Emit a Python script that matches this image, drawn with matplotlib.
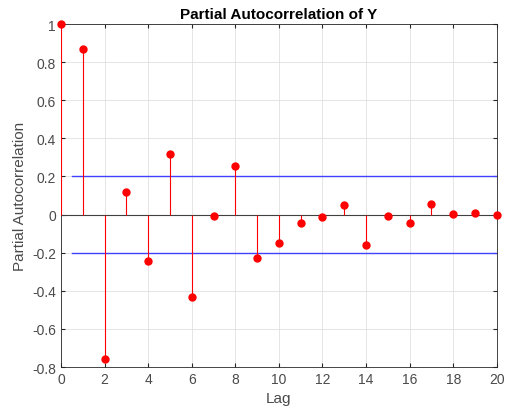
import numpy as np
import matplotlib
matplotlib.use("Agg")
import matplotlib.pyplot as plt

plt.rcParams["font.family"] = ["Liberation Sans", "DejaVu Sans"]

# sample partial autocorrelations, lags 0..20
lags = np.arange(0, 21)
pacf = [1.0, 0.87, -0.76, 0.12, -0.245, 0.32, -0.43, -0.005, 0.255, -0.23,
        -0.149, -0.045, -0.013, 0.051, -0.158, -0.01, -0.042, 0.058, 0.005,
        0.01, -0.003]
bound = 0.2
x_ticks = np.arange(0, 21, 2)
y_ticks = np.arange(-0.8, 1.01, 0.2)

fig = plt.figure(figsize=(5.08, 4.14), dpi=100)
ax = fig.add_axes([0.12, 0.111, 0.858, 0.8286])

ax.vlines(lags, 0, pacf, color="red", lw=0.8, zorder=3)
ax.plot(lags, pacf, "o", color="red", ms=5, zorder=4, clip_on=False)
ax.axhline(0, color="#404040", lw=0.8, zorder=2)
ax.plot([0.5, 20], [bound, bound], color="#4040ff", lw=1.0, zorder=2)
ax.plot([0.5, 20], [-bound, -bound], color="#4040ff", lw=1.0, zorder=2)

ax.set_xlim(0, 20)
ax.set_ylim(-0.8, 1.0)
ax.set_xticks(x_ticks)
ax.set_yticks(y_ticks)
ax.set_yticklabels([f"{v:g}" if abs(v) > 1e-9 else "0" for v in np.round(y_ticks, 1)])
ax.grid(True, color="#e0e0e0", lw=0.6)
ax.set_axisbelow(True)
ax.tick_params(direction="in", length=3, color="#262626", labelcolor="#4a4a4a",
               labelsize=10, top=True, right=True, labeltop=False, labelright=False)
for s in ax.spines.values():
    s.set_color("#262626")
    s.set_linewidth(0.6)

ax.set_xlabel("Lag", fontsize=11, color="#4a4a4a")
ax.set_ylabel("Partial Autocorrelation", fontsize=11, color="#4a4a4a")
ax.set_title("Partial Autocorrelation of Y", fontsize=11, fontweight="bold", pad=4)

fig.savefig("out.png", dpi=100)
